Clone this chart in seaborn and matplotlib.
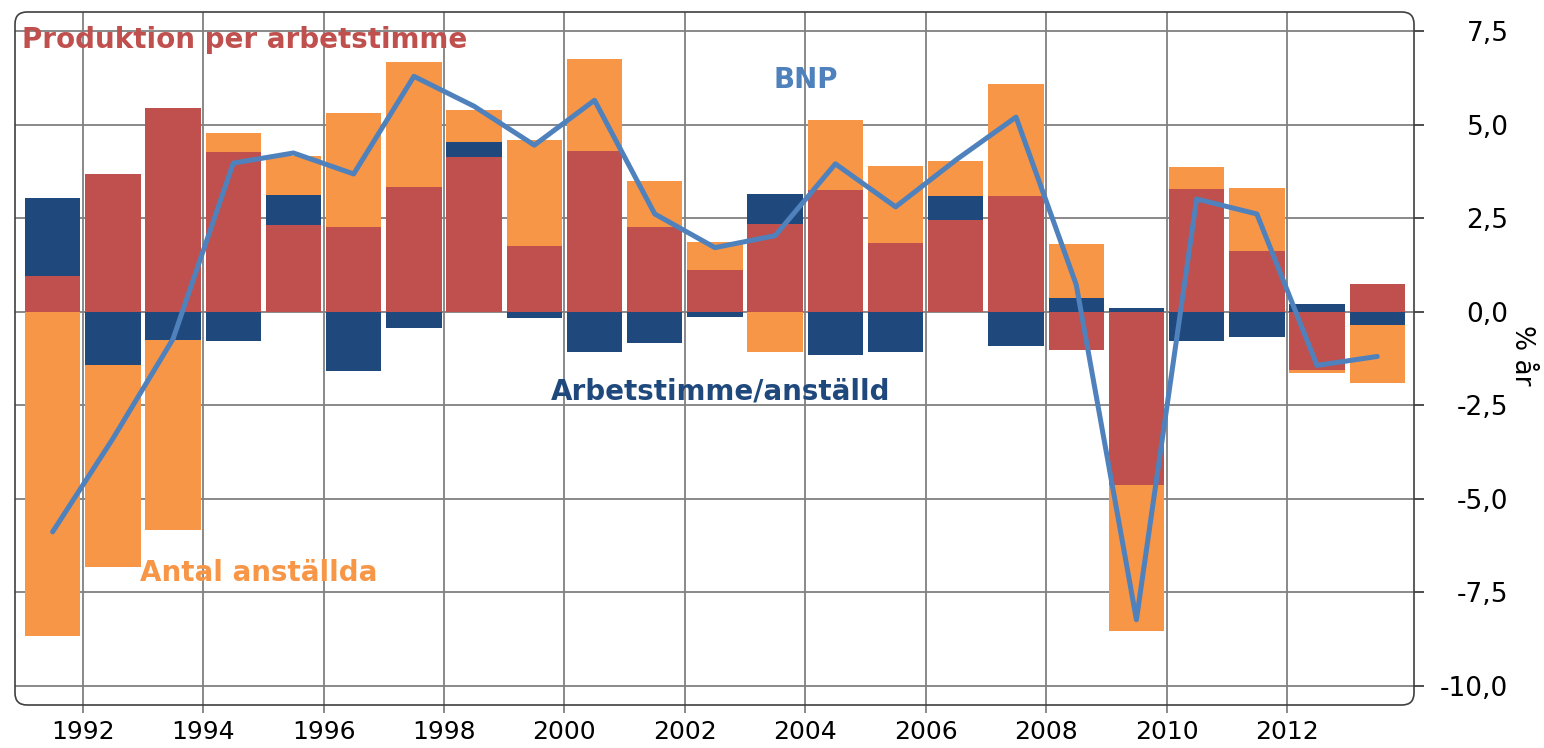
import matplotlib
matplotlib.use('Agg')
import matplotlib.pyplot as plt
from matplotlib.patches import FancyBboxPatch
import numpy as np
import seaborn as sns

years = np.arange(1991, 2014)
# Produktion per arbetstimme
prod = [0.96, 3.68, 5.44, 4.27, 2.32, 2.27, 3.33, 4.13, 1.76, 4.29, 2.27, 1.12,
        2.35, 3.25, 1.84, 2.45, 3.09, -1.04, -4.64, 3.28, 1.63, -1.57, 0.75]
# Arbetstimme/anställd
hours = [2.08, -1.44, -0.75, -0.80, 0.80, -1.60, -0.45, 0.40, -0.16, -1.09, -0.85, -0.15,
         0.80, -1.15, -1.07, 0.64, -0.91, 0.37, 0.10, -0.80, -0.69, 0.21, -0.35]
# Antal anställda
empl = [-8.67, -5.39, -5.09, 0.50, 1.04, 3.04, 3.34, 0.86, 2.83, 2.46, 1.22, 0.75,
        -1.09, 1.87, 2.05, 0.94, 2.99, 1.44, -3.89, 0.59, 1.68, -0.08, -1.57]
# BNP
bnp = [-5.89, -3.40, -0.73, 3.97, 4.24, 3.68, 6.29, 5.49, 4.45, 5.65, 2.61, 1.71,
       2.03, 3.95, 2.80, 4.05, 5.20, 0.72, -8.24, 3.01, 2.61, -1.44, -1.20]

series = [prod, hours, empl]
colors = ['#C0504D', '#1F497D', '#F79646']
line_color = '#4F81BD'


def main():
    sns.set_style('white')
    plt.rcParams['font.family'] = ['DejaVu Sans']
    fig = plt.figure(figsize=(15.44, 7.48), dpi=100)
    ax = fig.add_axes([15 / 1544, 1 - 705 / 748, 1399 / 1544, 693 / 748])

    xpos = years + 0.5
    vals = np.array(series)
    pos = np.cumsum(np.clip(vals, 0, None), axis=0)
    neg = np.cumsum(np.clip(vals, None, 0), axis=0)
    # stacked bars: draw cumulative totals, outermost first
    for k in range(len(series) - 1, -1, -1):
        for cum in (pos[k], neg[k]):
            sns.barplot(x=xpos, y=cum, native_scale=True, width=0.92, color=colors[k],
                        saturation=1, linewidth=0, ax=ax, zorder=2)

    sns.lineplot(x=xpos, y=bnp, color=line_color, linewidth=3.6, ax=ax, zorder=3)

    ax.set_xlim(1990.875, 2014.11)
    ax.set_ylim(-10.52, 8.01)
    ax.set_xticks(np.arange(1992, 2013, 2))
    ax.set_xticklabels([str(y) for y in range(1992, 2013, 2)])
    yt = np.arange(-10, 7.6, 2.5)
    ax.set_yticks(yt)
    ax.set_yticklabels([f'{v:.1f}'.replace('.', ',') for v in yt], ha='right')
    ax.yaxis.tick_right()
    ax.tick_params(axis='x', direction='out', length=6, width=1.3, color='#808080',
                   labelsize=18, pad=5, bottom=True, labelcolor='black')
    ax.tick_params(axis='y', direction='out', length=7, width=1.3, color='#404040',
                   labelsize=19, pad=61, right=True, labelcolor='black')
    ax.set_axisbelow(True)
    ax.grid(True, color='#808080', linewidth=1.3)
    ax.set_xlabel('')
    ax.set_ylabel('% år', fontsize=19, rotation=270, va='center', color='black')
    ax.yaxis.set_label_position('right')
    ax.yaxis.set_label_coords(1.0865, 0.505)

    for s in ax.spines.values():
        s.set_visible(False)
    frame = FancyBboxPatch((0, 0), 1, 1, boxstyle='round,pad=0,rounding_size=0.0086',
                           mutation_aspect=2.02, transform=ax.transAxes, fill=False,
                           edgecolor='#404040', linewidth=1.2, clip_on=False, zorder=5)
    ax.add_patch(frame)

    ax.text(1990.99, 7.25, 'Produktion per arbetstimme', color='#C0504D', fontsize=20,
            fontweight='bold', ha='left', va='center')
    ax.text(2004.0, 6.18, 'BNP', color=line_color, fontsize=20, fontweight='bold',
            ha='center', va='center')
    ax.text(2002.6, -2.13, 'Arbetstimme/anställd', color='#1F497D', fontsize=20,
            fontweight='bold', ha='center', va='center')
    ax.text(1994.92, -7.0, 'Antal anställda', color='#F79646', fontsize=20,
            fontweight='bold', ha='center', va='center')

    fig.savefig('out.png', dpi=100)


if __name__ == '__main__':
    main()
